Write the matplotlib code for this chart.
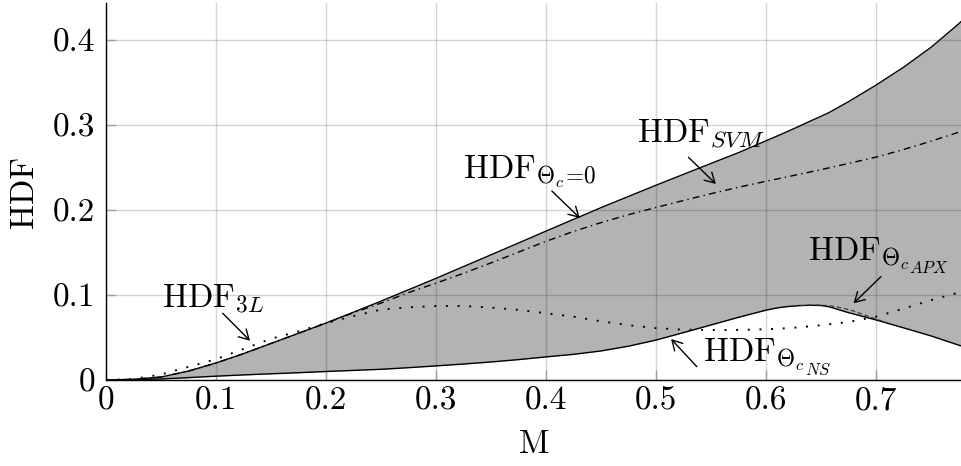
import matplotlib
matplotlib.use("Agg")
import matplotlib.pyplot as plt

plt.rcParams["font.family"] = "serif"
plt.rcParams["font.serif"] = ["cmr10"]
plt.rcParams["mathtext.fontset"] = "cm"
plt.rcParams["axes.formatter.use_mathtext"] = True
plt.rcParams["axes.unicode_minus"] = False

# Modulation index grid
m = [0.0, 0.025, 0.05, 0.075, 0.1, 0.125, 0.15, 0.175, 0.2, 0.225, 0.25,
     0.275, 0.3, 0.325, 0.35, 0.375, 0.4, 0.425, 0.45, 0.475, 0.5, 0.525,
     0.55, 0.575, 0.6, 0.61, 0.62, 0.63, 0.64, 0.65, 0.657, 0.675, 0.7,
     0.725, 0.75, 0.775, 0.778]

# HDF with Theta_c = 0 (upper bound)
hdf_zero = [0.0, 0.0008, 0.0035, 0.0105, 0.0200, 0.0310, 0.0430, 0.0550,
            0.0670, 0.0798, 0.0928, 0.1062, 0.1196, 0.1335, 0.1473, 0.1612,
            0.1752, 0.1890, 0.2028, 0.2160, 0.2292, 0.2420, 0.2548, 0.2675,
            0.2815, 0.2870, 0.2927, 0.2985, 0.3045, 0.3103, 0.3145, 0.3275,
            0.3470, 0.3680, 0.3915, 0.4190, 0.4227]

# HDF with natural sampling clamping angle (lower bound)
hdf_ns = [0.0, 0.0003, 0.0012, 0.0028, 0.0045, 0.0060, 0.0073, 0.0086,
          0.0100, 0.0113, 0.0126, 0.0145, 0.0166, 0.0188, 0.0212, 0.0240,
          0.0272, 0.0302, 0.0342, 0.0398, 0.0470, 0.0558, 0.0648, 0.0738,
          0.0822, 0.0848, 0.0865, 0.0875, 0.0879, 0.0876, 0.0862, 0.0792,
          0.0706, 0.0613, 0.0518, 0.0410, 0.0398]

# HDF of the SVM modulator
hdf_svm = [0.0, 0.0008, 0.0035, 0.0105, 0.0200, 0.0310, 0.0430, 0.0550,
           0.0668, 0.0792, 0.0905, 0.1028, 0.1140, 0.1255, 0.1378, 0.1505,
           0.1632, 0.1748, 0.1852, 0.1945, 0.2030, 0.2112, 0.2192, 0.2268,
           0.2338, 0.2365, 0.2392, 0.2420, 0.2447, 0.2475, 0.2495, 0.2548,
           0.2622, 0.2712, 0.2810, 0.2915, 0.2929]

# HDF of the three-level modulator
hdf_3l = [0.0, 0.0012, 0.0065, 0.0155, 0.0245, 0.0365, 0.0485, 0.0572,
          0.0670, 0.0752, 0.0828, 0.0855, 0.0870, 0.0871, 0.0852, 0.0825,
          0.0785, 0.0745, 0.0690, 0.0645, 0.0610, 0.0592, 0.0588, 0.0588,
          0.0597, 0.0603, 0.0610, 0.0620, 0.0632, 0.0645, 0.0655, 0.0683,
          0.0745, 0.0840, 0.0940, 0.1028, 0.1039]

# Approximated clamping angle, around the peak
m_apx = [0.625, 0.64, 0.65, 0.66, 0.67, 0.68, 0.69, 0.70, 0.71]
hdf_apx = [0.0871, 0.0881, 0.0882, 0.0870, 0.0845, 0.0810, 0.0762, 0.0716,
           0.0675]

x_ticks = [0, 0.1, 0.2, 0.3, 0.4, 0.5, 0.6, 0.7]
x_tick_labels = ["0", "0.1", "0.2", "0.3", "0.4", "0.5", "0.6", "0.7"]
y_ticks = [0, 0.1, 0.2, 0.3, 0.4]
y_tick_labels = ["0", "0.1", "0.2", "0.3", "0.4"]

FS = 24
DPI = 100

fig = plt.figure(figsize=(9.62, 4.66), dpi=DPI)
ax = fig.add_axes([106 / 962, 86 / 466, 856 / 962, 377 / 466])

ax.fill_between(m, hdf_ns, hdf_zero, color="#b3b3b3", lw=0, zorder=1)
ax.plot(m, hdf_zero, color="black", lw=1.0, zorder=3)
ax.plot(m, hdf_ns, color="black", lw=1.0, zorder=3)
ax.plot(m, hdf_svm, color="black", lw=1.0, ls=(0, (5, 3, 1, 3)), zorder=3)
ax.plot(m, hdf_3l, color="black", lw=1.4, ls=(0, (1, 5)), zorder=3)
ax.plot(m_apx, hdf_apx, color="#333333", lw=0.8, ls=(0, (4, 2.5)), zorder=3)

ax.set_xlim(0, 0.778)
ax.set_ylim(0, 0.4435)
ax.set_xticks(x_ticks)
ax.set_xticklabels(x_tick_labels)
ax.set_yticks(y_ticks)
ax.set_yticklabels(y_tick_labels)
ax.tick_params(direction="in", length=7, width=1, color="#a0a0a0",
               labelsize=FS)
ax.tick_params(axis="y", pad=8)
ax.tick_params(axis="x", pad=5)

ax.set_axisbelow(False)
ax.grid(True, color="black", alpha=0.17, lw=1.0)

for side in ("top", "right"):
    ax.spines[side].set_visible(False)
for side in ("left", "bottom"):
    ax.spines[side].set_linewidth(1.0)
    ax.spines[side].set_zorder(4)

ax.set_xlabel("M", fontsize=FS, labelpad=10)
ax.set_ylabel("HDF", fontsize=FS, labelpad=10)

# (main text, second-level subscript, text anchor, arrow tail, arrow head)
labels = [
    (r"$\mathrm{HDF}_{3L}$", "", (0.051, 0.0859), (0.1061, 0.0785), (0.1309, 0.0462)),
    (r"$\mathrm{HDF}_{\Theta_c\!=\!0}$", "", (0.3245, 0.2373), (0.4052, 0.2224), (0.4306, 0.1906)),
    (r"$\mathrm{HDF}_{SVM}$", "", (0.4824, 0.2804), (0.5294, 0.2620), (0.5543, 0.2306)),
    (r"$\mathrm{HDF}_{\Theta_c}$", "APX", (0.6376, 0.1412), (0.7043, 0.1216), (0.6794, 0.0902)),
    (r"$\mathrm{HDF}_{\Theta_c}$", "NS", (0.543, 0.0215), (0.5370, 0.0157), (0.5136, 0.0482)),
]
fig.canvas.draw()
renderer = fig.canvas.get_renderer()
for text, extra, pos, tail, head in labels:
    t = ax.text(pos[0], pos[1], text, fontsize=FS, ha="left", va="baseline",
                zorder=5)
    if extra:
        bb = t.get_window_extent(renderer=renderer)
        x0 = ax.transData.transform(pos)[0]
        dx = (bb.x1 - x0) * 72.0 / DPI
        ax.annotate("$" + extra + "$", xy=pos, xycoords="data",
                    xytext=(dx - 0.3, -0.39 * FS), textcoords="offset points",
                    fontsize=FS * 0.5, ha="left", va="baseline", zorder=5)
    ax.annotate("", xy=head, xytext=tail,
                arrowprops=dict(arrowstyle="->,head_length=0.35,head_width=0.2",
                                lw=1.0, color="black", mutation_scale=20,
                                shrinkA=0, shrinkB=0),
                zorder=5)

fig.savefig("out.png", dpi=DPI)
